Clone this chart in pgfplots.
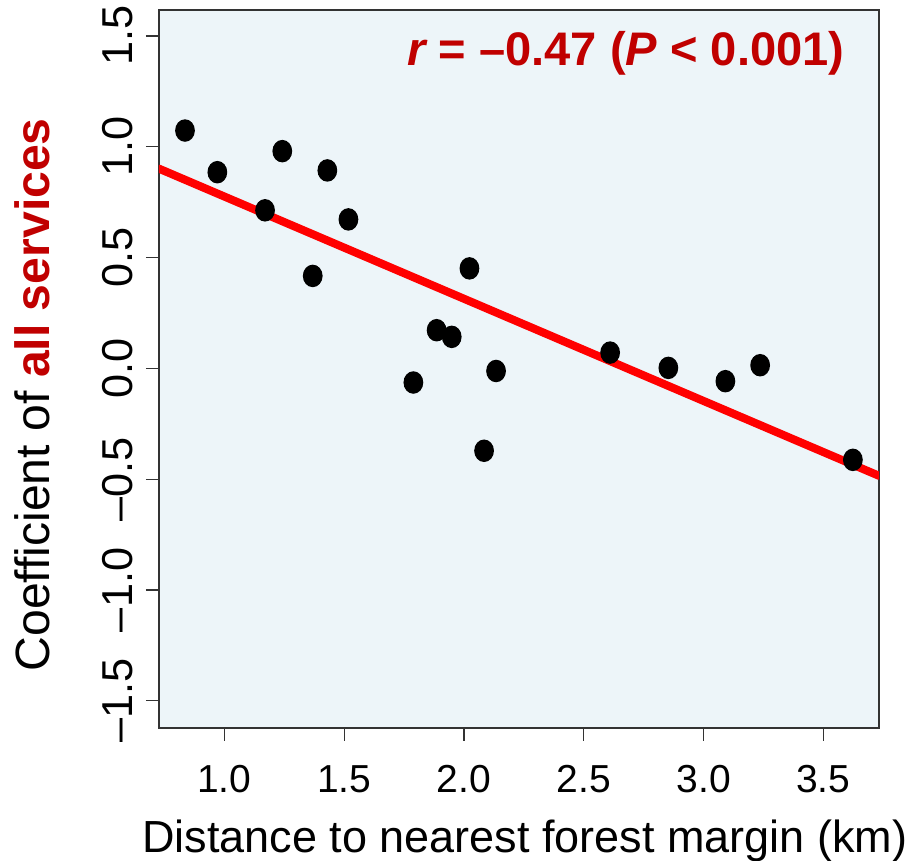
\documentclass[border=0pt]{standalone}
\usepackage{fontspec}
\setmainfont{Liberation Sans}
\usepackage{pgfplots}
\pgfplotsset{compat=1.18}
\definecolor{bgblue}{HTML}{EDF5F9}
\definecolor{anno}{HTML}{C00000}
\begin{document}
\begin{tikzpicture}
\begin{axis}[
    scale only axis,
    width=72mm, height=71.8mm,
    xmin=0.7275, xmax=3.732,
    ymin=-1.623, ymax=1.617,
    axis background/.style={fill=bgblue},
    axis line style={draw=black!80, line width=0.5pt},
    tick align=outside,
    xtick pos=bottom, ytick pos=left,
    major tick length=1.3mm,
    tick style={draw=black!80, line width=0.35pt},
    xtick={1,1.5,2,2.5,3,3.5},
    xticklabels={1.0,1.5,2.0,2.5,3.0,3.5},
    ytick={-1.5,-1,-0.5,0,0.5,1,1.5},
    yticklabels={–1.5,–1.0,–0.5,0.0,0.5,1.0,1.5},
    xticklabel style={font=\fontsize{11.1}{13}\selectfont, anchor=base, inner sep=0pt},
    xticklabel shift=5.2mm,
    yticklabel style={font=\fontsize{12.3}{14}\selectfont, rotate=90, anchor=base, inner sep=0pt},
    yticklabel shift=1.3mm,
    xlabel={Distance to nearest forest margin (km)},
    xlabel style={font=\fontsize{12.8}{15}\selectfont, inner sep=0pt,
        at={([yshift=-12.4mm]rel axis cs:0.508,0)}, anchor=base},
    ylabel={Coefficient of {\bfseries\color{anno}all services}},
    ylabel style={font=\fontsize{13.7}{16}\selectfont, inner sep=0pt,
        at={([xshift=-10.9mm]rel axis cs:0,0.464)}, anchor=base, rotate=0},
]
\addplot[only marks, mark=*, mark size=3pt, mark options={xscale=0.87, fill=black, draw=black}]
coordinates {
(0.836,1.073) (0.971,0.885) (1.242,0.980) (1.430,0.893) (1.170,0.713)
(1.518,0.672) (1.369,0.417) (2.023,0.451) (1.886,0.172) (1.949,0.142)
(1.789,-0.064) (2.134,-0.012) (2.084,-0.372) (2.610,0.071) (2.853,0.002)
(3.091,-0.058) (3.236,0.014) (3.623,-0.413)
};
\addplot[draw=red, line width=2.3pt, line cap=round] coordinates {(0.7275,0.901) (3.732,-0.485)};
\node[anchor=base east, inner sep=0pt, text=anno, font=\fontsize{13.4}{16}\selectfont\bfseries]
    at (rel axis cs:0.953,0.922) {{\itshape r} = –0.47 ({\itshape P} < 0.001)};
\coordinate (bl) at (rel axis cs:0,0);
\coordinate (tr) at (rel axis cs:1,1);
\end{axis}
\pgfresetboundingbox
\path[use as bounding box] ([xshift=-15.9mm,yshift=-13.3mm]bl) rectangle ([xshift=3.4mm,yshift=1mm]tr);
\end{tikzpicture}
\end{document}
